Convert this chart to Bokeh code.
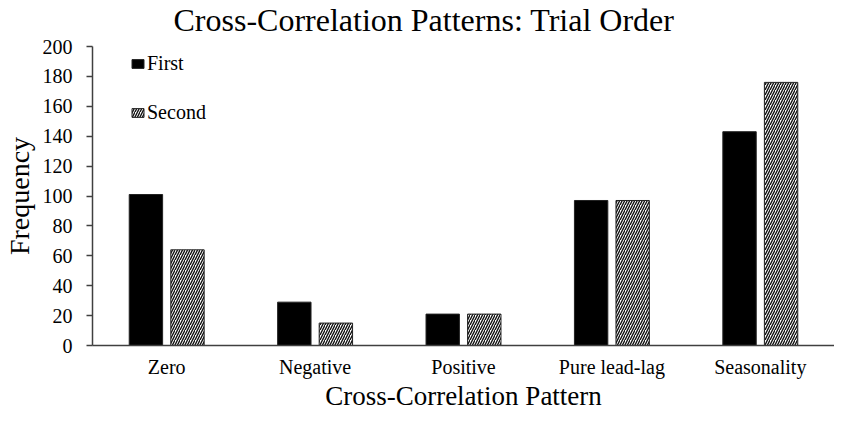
from bokeh.plotting import figure
from bokeh.models import ColumnDataSource, FactorRange, Range1d, Legend, LegendItem, FixedTicker
from bokeh.transform import dodge
from bokeh.embed import file_html
from bokeh.resources import INLINE

categories = ["Zero", "Negative", "Positive", "Pure lead-lag", "Seasonality"]
first = [101, 29, 21, 97, 143]
second = [64, 15, 21, 97, 176]
y_ticks = [0, 20, 40, 60, 80, 100, 120, 140, 160, 180, 200]
title_text = "Cross-Correlation Patterns: Trial Order"
x_label = "Cross-Correlation Pattern"
y_label = "Frequency"
series_names = ["First", "Second"]

FONT = "Liberation Serif"

source = ColumnDataSource(dict(cat=categories, first=first, second=second))

p = figure(width=834, height=415, x_range=FactorRange(*categories), y_range=Range1d(0, 200),
           output_backend="svg", toolbar_location=None,
           min_border_left=90, min_border_right=0, min_border_top=46, min_border_bottom=70)
p.outline_line_color = None
p.xgrid.grid_line_color = None
p.ygrid.grid_line_color = None
p.background_fill_color = "white"
p.border_fill_color = "white"

p.title.text = title_text
p.title.text_font = FONT
p.title.text_font_size = "32px"
p.title.text_font_style = "normal"
p.title.text_color = "black"
p.title.align = "left"
p.title.offset = 81
p.title.vertical_align = "top"
p.title.standoff = 0
p.title.padding = dict(top=0, bottom=7, left=0, right=0)

r1 = p.vbar(x=dodge("cat", -0.14, range=p.x_range), top="first", width=0.225, source=source,
            fill_color="black", line_color="#222222", line_width=1)
r2 = p.vbar(x=dodge("cat", 0.14, range=p.x_range), top="second", width=0.225, source=source,
            fill_color="white", line_color="#222222", line_width=1,
            hatch_pattern="right_diagonal_line", hatch_color="#111111", hatch_scale=5, hatch_weight=1.4)

# axes
p.yaxis.ticker = FixedTicker(ticks=y_ticks)
p.yaxis.minor_tick_line_color = None
p.yaxis.major_tick_out = 6
p.yaxis.major_tick_in = 0
p.yaxis.major_tick_line_color = "#404040"
p.yaxis.major_tick_line_width = 1.5
p.yaxis.axis_line_color = "#404040"
p.yaxis.axis_line_width = 1.5
p.yaxis.major_label_standoff = 14
p.yaxis.major_label_text_font = FONT
p.yaxis.major_label_text_font_size = "20px"
p.yaxis.major_label_text_color = "black"
p.yaxis.axis_label = y_label
p.yaxis.axis_label_text_font = FONT
p.yaxis.axis_label_text_font_size = "28px"
p.yaxis.axis_label_text_font_style = "normal"
p.yaxis.axis_label_text_color = "black"
p.yaxis.axis_label_standoff = 5

p.xaxis.major_tick_line_color = None
p.xaxis.major_tick_out = 0
p.xaxis.major_tick_in = 0
p.xaxis.minor_tick_line_color = None
p.xaxis.axis_line_color = "#404040"
p.xaxis.axis_line_width = 1.5
p.xaxis.major_label_standoff = 10
p.xaxis.major_label_text_font = FONT
p.xaxis.major_label_text_font_size = "20px"
p.xaxis.major_label_text_color = "black"
p.xaxis.axis_label = x_label
p.xaxis.axis_label_text_font = FONT
p.xaxis.axis_label_text_font_size = "27px"
p.xaxis.axis_label_text_font_style = "normal"
p.xaxis.axis_label_text_color = "black"
p.xaxis.axis_label_standoff = 0

# legend
legend = Legend(items=[LegendItem(label=series_names[0], renderers=[r1]),
                       LegendItem(label=series_names[1], renderers=[r2])],
                location=(38, 221), orientation="vertical")
legend.margin = 0
legend.padding = 0
legend.spacing = 26
legend.glyph_width = 15
legend.glyph_height = 11
legend.label_height = 20
legend.label_standoff = 2
legend.label_text_font = FONT
legend.label_text_font_size = "20px"
legend.label_text_color = "black"
legend.border_line_color = None
legend.background_fill_alpha = 0
p.add_layout(legend, "center")

open("out.html", "w").write(file_html(p, INLINE))
